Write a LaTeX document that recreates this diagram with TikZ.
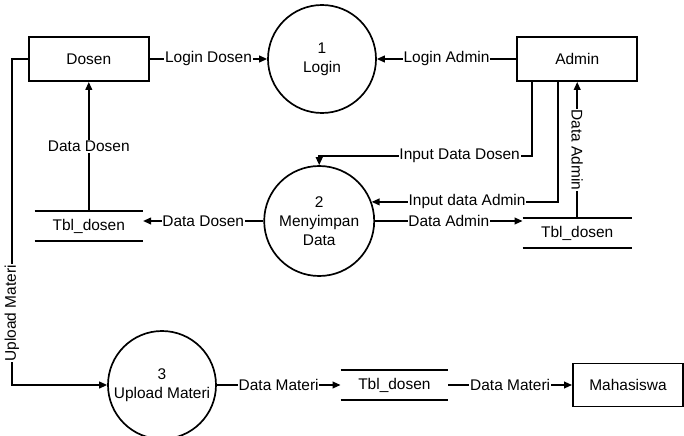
\documentclass[tikz,border=0pt]{standalone}
\usepackage{fontspec}
\setmainfont{Liberation Sans}
\usetikzlibrary{arrows.meta,positioning}

\begin{document}
\begin{tikzpicture}[
  x=1cm,y=1cm,
  entity/.style={draw=black, line width=1.4pt, minimum width=3.0cm,
    minimum height=1.1cm, font=\fontsize{11}{13.5}\selectfont},
  process/.style={circle, draw=black, line width=1.2pt, minimum size=2.7cm,
    align=center, inner sep=0pt, font=\fontsize{11}{13.5}\selectfont},
  store/.style={minimum width=2.7cm, minimum height=0.75cm,
    font=\fontsize{11}{13.5}\selectfont},
  storeline/.style={line width=1.2pt},
  flow/.style={-{Triangle[length=2mm,width=1.7mm]}, line width=1.1pt},
  lbl/.style={fill=white, inner sep=0.6pt, font=\fontsize{11}{13.5}\selectfont}
]
\useasboundingbox (0,0) rectangle (17.1,10.875);

\node[entity] (dosen) at (2.22,9.40) {Dosen};
\node[entity] (admin) at (14.43,9.40) {Admin};
\node[entity, minimum width=2.75cm, minimum height=1.075cm] (mahasiswa)
  at (15.7,1.25) {Mahasiswa};

\node[process] (login) at (8.05,9.40) {1\\Login};
\node[process, minimum size=2.75cm] (simpan) at (7.98,5.35)
  {2\\Menyimpan\\Data};
\node[process] (upload) at (4.05,1.25) {3\\Upload Materi};

\node[store] (tbldosen) at (2.22,5.225) {Tbl\_dosen};
\node[store, minimum width=2.72cm] (tbladmin) at (14.43,5.05) {Tbl\_dosen};
\node[store, minimum width=2.68cm, minimum height=0.725cm] (tblmateri)
  at (9.86,1.25) {Tbl\_dosen};
\foreach \s in {tbldosen,tbladmin,tblmateri}
  \draw[storeline] (\s.north west) -- (\s.north east)
    (\s.south west) -- (\s.south east);

\draw[flow] (dosen) -- node[lbl] {Login Dosen} (login);
\draw[flow] (admin) -- node[lbl] {Login Admin} (login);
\draw[flow] ([xshift=-1.13cm]admin.south) -- ++(0,-1.85)
  -| node[lbl, pos=0.17] {Input Data Dosen} (simpan.north);
\draw[flow] ([xshift=-0.48cm]admin.south)
  |- node[lbl, pos=0.744] {Input data Admin} (simpan.20);
\draw[flow] (simpan.east) -- node[lbl] {Data Admin}
  (simpan.east -| tbladmin.west);
\draw[flow] (tbladmin.north) -- node[lbl, rotate=-90] {Data Admin}
  (admin.south);
\draw[flow] (simpan.west) -- node[lbl] {Data Dosen}
  (simpan.west -| tbldosen.east);
\draw[flow] (tbldosen.north) -- node[lbl] {Data Dosen} (dosen.south);
\draw[flow] (dosen.west) -- ++(-0.4,0)
  |- node[lbl, pos=0.39, rotate=90] {Upload Materi} (upload.west);
\draw[flow] (upload) -- node[lbl] {Data Materi} (tblmateri);
\draw[flow] (tblmateri) -- node[lbl] {Data Materi} (mahasiswa);
\end{tikzpicture}
\end{document}
